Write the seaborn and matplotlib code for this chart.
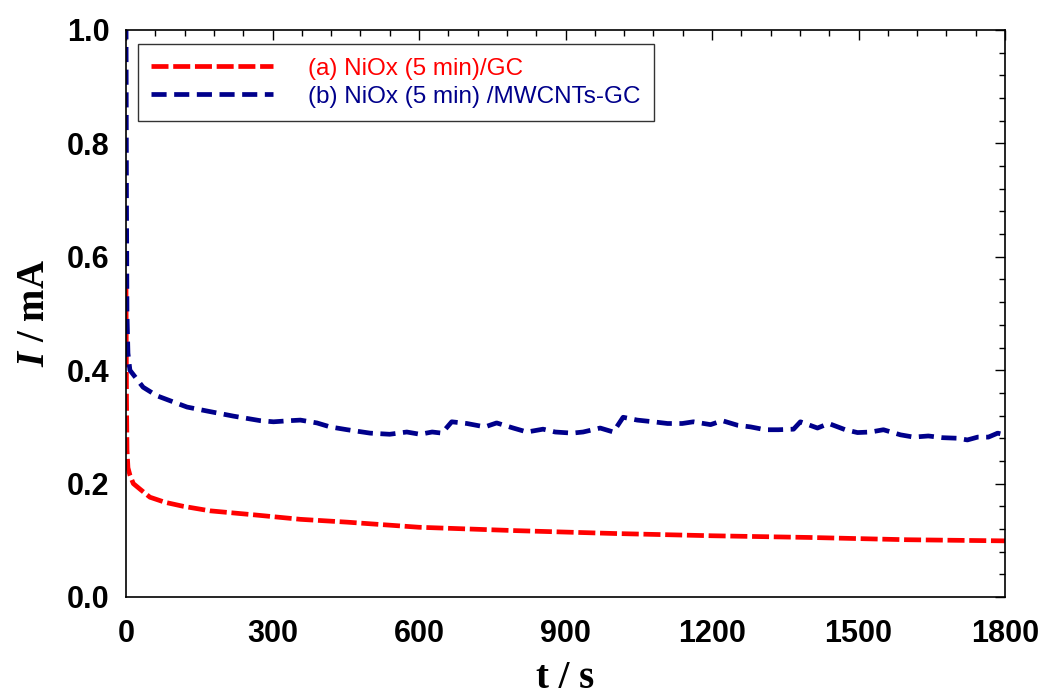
import numpy as np
import pandas as pd
import matplotlib
matplotlib.use("Agg")
import matplotlib.pyplot as plt
from matplotlib.ticker import MultipleLocator, FormatStrFormatter
import seaborn as sns

# values
t_a = [0, 1, 2, 4, 8, 15, 29, 49, 80, 117, 172, 261, 357, 453, 600, 800,
       1000, 1200, 1400, 1600, 1800]
i_a = [0.55, 0.35, 0.26, 0.228, 0.215, 0.2, 0.19, 0.176, 0.167, 0.16, 0.152,
       0.145, 0.137, 0.132, 0.123, 0.117, 0.112, 0.108, 0.105, 0.101, 0.099]

t_b = [0, 1, 2, 4, 8, 35, 63, 97, 125, 166, 220, 275, 302, 336, 357, 391, 418,
       453, 500, 540, 575, 602, 627, 647, 667, 698, 735, 759, 793, 821, 854,
       879, 914, 936, 971, 998, 1018, 1047, 1080, 1109, 1139, 1162, 1197, 1221,
       1252, 1279, 1309, 1336, 1367, 1381, 1416, 1439, 1473, 1498, 1525, 1551,
       1586, 1613, 1643, 1672, 1703, 1723, 1744, 1766, 1785, 1800]
i_b = [1.05, 0.7, 0.5, 0.43, 0.40, 0.37, 0.355, 0.344, 0.335, 0.328, 0.319,
       0.311, 0.309, 0.311, 0.312, 0.307, 0.300, 0.295, 0.289, 0.287, 0.291,
       0.287, 0.291, 0.289, 0.309, 0.306, 0.300, 0.307, 0.298, 0.291, 0.296,
       0.291, 0.289, 0.291, 0.298, 0.291, 0.317, 0.312, 0.309, 0.306, 0.306,
       0.309, 0.304, 0.311, 0.303, 0.300, 0.295, 0.295, 0.296, 0.309, 0.298,
       0.306, 0.295, 0.290, 0.291, 0.295, 0.286, 0.282, 0.284, 0.281, 0.280,
       0.277, 0.282, 0.282, 0.289, 0.286]

labels = ["(a) NiOx (5 min)/GC", "(b) NiOx (5 min) /MWCNTs-GC"]
colors = ["#ff0000", "#00008b"]

df_a = pd.DataFrame({"t": t_a, "I": i_a})
df_b = pd.DataFrame({"t": t_b, "I": i_b})

sns.set_style("white")
plt.rcParams["font.family"] = ["Liberation Sans", "DejaVu Sans"]
plt.rcParams["text.color"] = "black"
plt.rcParams["axes.labelcolor"] = "black"
plt.rcParams["xtick.color"] = "black"
plt.rcParams["ytick.color"] = "black"
plt.rcParams["mathtext.fontset"] = "custom"
plt.rcParams["mathtext.it"] = "Liberation Serif:italic:bold"
plt.rcParams["mathtext.rm"] = "Liberation Serif:bold"

fig = plt.figure(figsize=(10.44, 6.96), dpi=100)
ax = fig.add_axes([126 / 1044, 1 - 597 / 696, 879 / 1044, 567 / 696])

sns.lineplot(data=df_a, x="t", y="I", ax=ax, color=colors[0], linewidth=3.4,
             linestyle=(0, (3.6, 1.0)), label=labels[0], sort=False)
sns.lineplot(data=df_b, x="t", y="I", ax=ax, color=colors[1], linewidth=3.4,
             linestyle=(0, (3.2, 1.6)), label=labels[1], sort=False)

ax.set_xlim(0, 1800)
ax.set_ylim(0, 1.0)
ax.xaxis.set_major_locator(MultipleLocator(300))
ax.xaxis.set_minor_locator(MultipleLocator(60))
ax.yaxis.set_major_locator(MultipleLocator(0.2))
ax.yaxis.set_minor_locator(MultipleLocator(0.04))
ax.yaxis.set_major_formatter(FormatStrFormatter("%.1f"))

ax.tick_params(which="both", direction="in", top=True, right=True,
               color="black", width=1)
ax.tick_params(which="major", length=7, labelsize=22, pad=12)
ax.tick_params(axis="x", which="major", pad=16)
ax.tick_params(which="minor", length=4)
for lab in ax.get_xticklabels() + ax.get_yticklabels():
    lab.set_fontweight("bold")

for sp in ax.spines.values():
    sp.set_color("black")
    sp.set_linewidth(1.2)

ax.set_xlabel("t / s", fontsize=28, fontweight="bold",
              family="Liberation Serif", labelpad=8)
ax.set_ylabel(r"$I$ / mA", fontsize=28, fontweight="bold",
              family="Liberation Serif", labelpad=10)

leg = ax.legend(loc="upper left", bbox_to_anchor=(0.0137, 0.975),
                borderaxespad=0, fontsize=17.5, handlelength=5.0,
                handletextpad=1.45, frameon=True, fancybox=False,
                edgecolor="black", borderpad=0.55, labelspacing=0.25)
leg.get_frame().set_linewidth(1.0)
for txt, c in zip(leg.get_texts(), colors):
    txt.set_color(c)

fig.savefig("out.png", dpi=100)
